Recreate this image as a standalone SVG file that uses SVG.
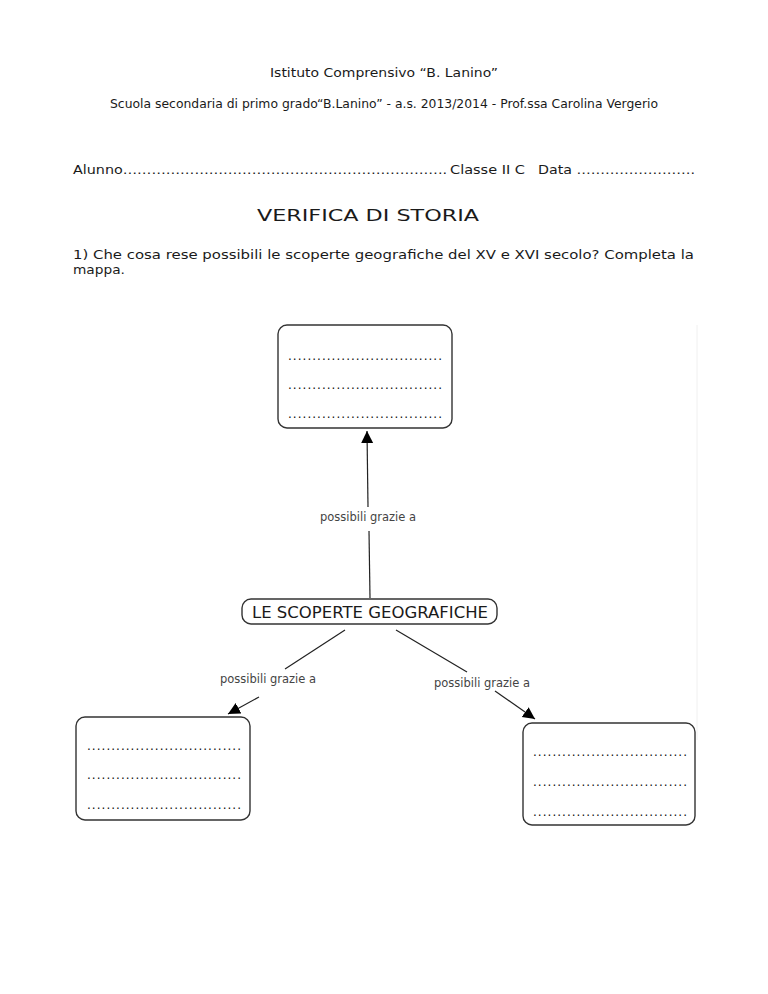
<svg xmlns="http://www.w3.org/2000/svg" width="768" height="994" viewBox="0 0 768 994">
<style>
text{font-family:"DejaVu Sans","Open Sans",sans-serif;fill:#1a1a1a}
.hdr{font-size:11.5px}
.lbl{font-size:11.5px;fill:#444}
.dots{font-size:12px;fill:#111}
.box{fill:#fff;stroke:#333;stroke-width:1.4}
.con{stroke:#222;stroke-width:1.2;fill:none}
</style>
<defs>
<marker id="arr" markerUnits="userSpaceOnUse" markerWidth="14" markerHeight="14" refX="12" refY="6" orient="auto">
<path d="M0,0 L12,6 L0,12 z" fill="#000"/>
</marker>
</defs>
<rect width="768" height="994" fill="#fff"/>
<line x1="697" y1="325" x2="697" y2="740" stroke="#f0f0f0" stroke-width="1"/>
<g id="header">
<text class="hdr" x="384" y="77" text-anchor="middle" textLength="228" lengthAdjust="spacingAndGlyphs">Istituto Comprensivo “B. Lanino”</text>
<text class="hdr" x="110" y="108" textLength="548" lengthAdjust="spacingAndGlyphs">Scuola secondaria di primo grado“B.Lanino” - a.s. 2013/2014 - Prof.ssa Carolina Vergerio</text>
<text class="hdr" x="73" y="174" textLength="374" lengthAdjust="spacingAndGlyphs">Alunno…………………………………………………………..</text>
<text class="hdr" x="450" y="174" textLength="75" lengthAdjust="spacingAndGlyphs">Classe II C</text>
<text class="hdr" x="538" y="174" textLength="157" lengthAdjust="spacingAndGlyphs">Data …………………….</text>
<text x="257" y="221" font-size="16" textLength="222" lengthAdjust="spacingAndGlyphs">VERIFICA DI STORIA</text>
<text class="hdr" x="73" y="259" textLength="621" lengthAdjust="spacingAndGlyphs">1) Che cosa rese possibili le scoperte geografiche del XV e XVI secolo? Completa la</text>
<text class="hdr" x="73" y="274" textLength="52" lengthAdjust="spacingAndGlyphs">mappa.</text>
</g>
<g id="connectors">
<path class="con" d="M370,598 L369,531"/>
<path class="con" d="M368,507 L367,431" marker-end="url(#arr)"/>
<text class="lbl" x="368" y="521" text-anchor="middle" textLength="96" lengthAdjust="spacingAndGlyphs">possibili grazie a</text>
<path class="con" d="M345,630 L285,669"/>
<path class="con" d="M259,697 L228,714" marker-end="url(#arr)"/>
<text class="lbl" x="268" y="683" text-anchor="middle" textLength="96" lengthAdjust="spacingAndGlyphs">possibili grazie a</text>
<path class="con" d="M396,630 L467,672"/>
<path class="con" d="M495,691 L535,719" marker-end="url(#arr)"/>
<text class="lbl" x="482" y="687" text-anchor="middle" textLength="96" lengthAdjust="spacingAndGlyphs">possibili grazie a</text>
</g>
<g id="node-top">
<rect class="box" x="278" y="325" width="174" height="103" rx="9"/>
<text class="dots" x="288" y="360" textLength="154" lengthAdjust="spacing">................................</text>
<text class="dots" x="288" y="389" textLength="154" lengthAdjust="spacing">................................</text>
<text class="dots" x="288" y="418" textLength="154" lengthAdjust="spacing">................................</text>
</g>
<g id="node-center">
<rect class="box" x="242" y="599" width="255" height="25" rx="9"/>
<text x="370" y="618" font-size="15" text-anchor="middle" textLength="236" lengthAdjust="spacingAndGlyphs" fill="#222">LE SCOPERTE GEOGRAFICHE</text>
</g>
<g id="node-left">
<rect class="box" x="76" y="717" width="174" height="103" rx="9"/>
<text class="dots" x="87" y="750" textLength="154" lengthAdjust="spacing">................................</text>
<text class="dots" x="87" y="779" textLength="154" lengthAdjust="spacing">................................</text>
<text class="dots" x="87" y="809" textLength="154" lengthAdjust="spacing">................................</text>
</g>
<g id="node-right">
<rect class="box" x="523" y="723" width="172" height="102" rx="9"/>
<text class="dots" x="533" y="756" textLength="154" lengthAdjust="spacing">................................</text>
<text class="dots" x="533" y="786" textLength="154" lengthAdjust="spacing">................................</text>
<text class="dots" x="533" y="816" textLength="154" lengthAdjust="spacing">................................</text>
</g>
</svg>
